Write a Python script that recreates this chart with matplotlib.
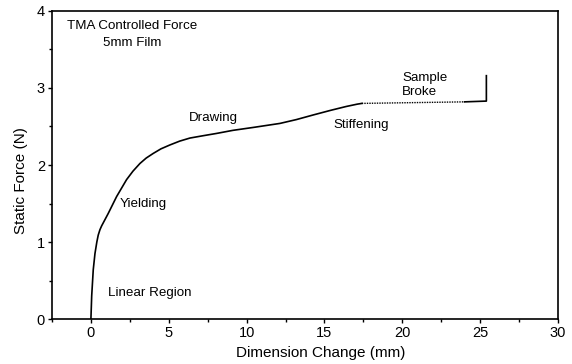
import matplotlib
matplotlib.use("Agg")
import matplotlib.pyplot as plt
from matplotlib.ticker import MultipleLocator

plt.rcParams['font.family'] = ['Liberation Sans', 'DejaVu Sans']

# Main curve (solid)
x_solid = [0.0, 0.05, 0.15, 0.26, 0.38, 0.47, 0.58, 0.69, 0.9, 1.11, 1.38, 1.65, 1.97, 2.29, 2.7, 3.15, 3.55, 4.0, 4.5, 5.07, 5.7, 6.36, 7.2, 8.07, 9.12, 10.5, 12.14, 13.2, 14.28, 15.4, 16.4, 17.1, 17.4]
y_solid = [0.0, 0.3, 0.64, 0.85, 1.0, 1.09, 1.16, 1.21, 1.29, 1.37, 1.48, 1.59, 1.7, 1.81, 1.92, 2.02, 2.09, 2.15, 2.21, 2.26, 2.31, 2.35, 2.38, 2.41, 2.45, 2.49, 2.54, 2.59, 2.65, 2.71, 2.76, 2.79, 2.8]
# Dotted segment
x_dot = [17.4, 24.0]
y_dot = [2.80, 2.82]
# Final solid segment + break
x_end = [24.0, 25.4, 25.4]
y_end = [2.82, 2.83, 3.16]

labels = [
    ("TMA Controlled Force", -1.55, 3.81),
    ("5mm Film", 0.77, 3.59),
    ("Drawing", 6.3, 2.61),
    ("Stiffening", 15.6, 2.52),
    ("Sample\nBroke", 20.0, 3.04),
    ("Yielding", 1.86, 1.49),
    ("Linear Region", 1.09, 0.34),
]

fig = plt.figure(figsize=(5.72, 3.64), dpi=100)
ax = fig.add_axes([0.0909, 0.1236, 0.8846, 0.8462])
ax.plot(x_solid, y_solid, color='black', lw=1.2)
ax.plot(x_dot, y_dot, color='black', lw=1.0, linestyle=(0, (1, 0.8)))
ax.plot(x_end, y_end, color='black', lw=1.2)

ax.set_xlim(-2.5, 30)
ax.set_ylim(0, 4)
ax.xaxis.set_major_locator(MultipleLocator(5))
ax.xaxis.set_minor_locator(MultipleLocator(2.5))
ax.yaxis.set_major_locator(MultipleLocator(1))
ax.yaxis.set_minor_locator(MultipleLocator(0.5))
ax.tick_params(which='major', length=3, width=1, labelsize=10.5, pad=2)
ax.tick_params(which='minor', length=2, width=1)
for s in ax.spines.values():
    s.set_linewidth(1.2)

ax.set_xlabel("Dimension Change (mm)", fontsize=11)
ax.set_ylabel("Static Force (N)", fontsize=11)
ax.xaxis.set_label_coords(0.531, -0.11, transform=ax.transAxes)
ax.xaxis.label.set_va('center')
ax.yaxis.set_label_coords(-0.061, 0.451, transform=ax.transAxes)
ax.yaxis.label.set_va('center')

for txt, x, y in labels:
    ax.text(x, y, txt, fontsize=9.6, ha='left', va='center', linespacing=1.15)

fig.savefig("out.png", dpi=100)
